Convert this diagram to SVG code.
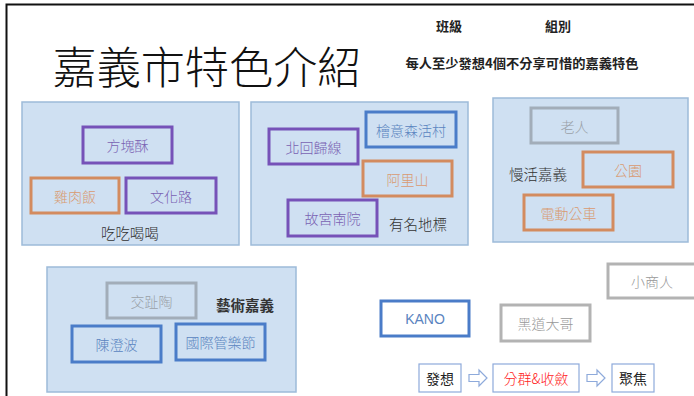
<svg xmlns="http://www.w3.org/2000/svg" width="694" height="396" viewBox="0 0 694 396">
<style>
text{font-family:"Noto Sans CJK TC","Noto Sans CJK SC",sans-serif;text-anchor:middle;dominant-baseline:central}
.grp{fill:#cfe0f2;stroke:#9dbbd9;stroke-width:1.5}
.b{stroke-width:3}
.pu{fill:none;stroke:#7652b8}.put{fill:#7a62b2;font-size:14px;font-weight:300}
.or{fill:none;stroke:#d38b5f}.ort{fill:#d99a70;font-size:14px;font-weight:300}
.bl{fill:none;stroke:#4a7cc8}.blt{fill:#5a84c0;font-size:14px;font-weight:300}
.gy{fill:none;stroke:#a2adb9}.gyt{fill:#9aa0a8;font-size:14px;font-weight:300}
.gw{fill:#fff;stroke:#b3b3b3}.gwt{fill:#999;font-size:14px;font-weight:300}
.lab{fill:#333;font-size:14.5px;font-weight:300}
.fl{fill:#fff;stroke:#8eaadb;stroke-width:1.2}
.ar{fill:#fff;stroke:#8eaadb;stroke-width:1.2}
</style>
<rect x="0" y="0" width="694" height="396" fill="#fff"/>
<path d="M6.5 396V4.5H694" fill="none" stroke="#111" stroke-width="2"/>
<g id="header">
<text x="207" y="65" font-size="44" font-weight="300" fill="#111" textLength="309" lengthAdjust="spacingAndGlyphs">嘉義市特色介紹</text>
<text x="449" y="25" font-size="13" font-weight="bold" fill="#222">班級</text>
<text x="558" y="25" font-size="13" font-weight="bold" fill="#222">組別</text>
<text x="522" y="62" font-size="13" font-weight="bold" fill="#222" textLength="233" lengthAdjust="spacingAndGlyphs">每人至少發想4個不分享可惜的嘉義特色</text>
</g>
<g id="group-food">
<rect class="grp" x="22" y="102" width="217" height="143"/>
<text class="lab" x="130" y="232">吃吃喝喝</text>
</g>
<g id="n-fangkuaisu"><rect class="b pu" x="83" y="127" width="89" height="36"/><text class="put" x="127.5" y="145">方塊酥</text></g>
<g id="n-jiroufan"><rect class="b or" x="31" y="178" width="88" height="35"/><text class="ort" x="75" y="195.5">雞肉飯</text></g>
<g id="n-wenhualu"><rect class="b pu" x="126" y="178" width="90" height="35"/><text class="put" x="171" y="195.5">文化路</text></g>
<g id="group-landmark">
<rect class="grp" x="251" y="102" width="217" height="143"/>
<text class="lab" x="418" y="223">有名地標</text>
</g>
<g id="n-hinoki"><rect class="b bl" x="366" y="112" width="90" height="35"/><text class="blt" x="411" y="129.5">檜意森活村</text></g>
<g id="n-tropic"><rect class="b pu" x="269" y="129" width="89" height="35"/><text class="put" x="313.5" y="146.5">北回歸線</text></g>
<g id="n-alishan"><rect class="b or" x="363" y="161" width="89" height="35"/><text class="ort" x="407.5" y="178.5">阿里山</text></g>
<g id="n-npm"><rect class="b pu" x="288" y="200" width="89" height="36"/><text class="put" x="332.5" y="218">故宮南院</text></g>
<g id="group-slow">
<rect class="grp" x="493" y="98" width="195" height="144"/>
<text class="lab" x="538" y="173">慢活嘉義</text>
</g>
<g id="n-elder"><rect class="b gy" x="531" y="108" width="87" height="35"/><text class="gyt" x="574.5" y="125.5">老人</text></g>
<g id="n-park"><rect class="b or" x="583" y="152" width="90" height="35"/><text class="ort" x="628" y="169.5">公園</text></g>
<g id="n-ebus"><rect class="b or" x="524" y="195" width="89" height="35"/><text class="ort" x="568.5" y="212.5">電動公車</text></g>
<g id="group-art">
<rect class="grp" x="47" y="267" width="249" height="125"/>
<text class="lab" x="245" y="304" font-weight="bold" style="font-weight:700;fill:#333">藝術嘉義</text>
</g>
<g id="n-koji"><rect class="b gy" x="107" y="283" width="89" height="35"/><text class="gyt" x="151.5" y="300.5">交趾陶</text></g>
<g id="n-chen"><rect class="b bl" x="72" y="326" width="89" height="36"/><text class="blt" x="116.5" y="344">陳澄波</text></g>
<g id="n-band"><rect class="b bl" x="176" y="324" width="89" height="36"/><text class="blt" x="220.5" y="342">國際管樂節</text></g>
<g id="n-kano"><rect class="b bl" x="381" y="301" width="88" height="35" fill="#fff"/><text class="blt" x="425" y="318.5" style="font-family:'Liberation Sans',sans-serif;font-weight:400">KANO</text></g>
<g id="n-gangster"><rect class="b gw" x="501" y="305" width="89" height="36"/><text class="gwt" x="545.5" y="323">黑道大哥</text></g>
<g id="n-vendor"><rect class="b gw" x="608" y="264" width="90" height="34"/><text class="gwt" x="652" y="281">小商人</text></g>
<g id="flow-1"><rect class="fl" x="419" y="364" width="42" height="28"/><text x="440" y="378" font-size="14" fill="#222">發想</text></g>
<g id="flow-2"><rect class="fl" x="493" y="364" width="86" height="28"/><text x="536" y="378" font-size="14" fill="#f22" font-weight="300">分群&amp;收斂</text></g>
<g id="flow-3"><rect class="fl" x="612" y="364" width="42" height="28"/><text x="633" y="378" font-size="14" fill="#222">聚焦</text></g>
<g id="connectors">
<path class="ar" d="M469 374.5H479V370L487 378L479 386V381.5H469Z"/>
<path class="ar" d="M587 374.5H597V370L605 378L597 386V381.5H587Z"/>
</g>
</svg>
